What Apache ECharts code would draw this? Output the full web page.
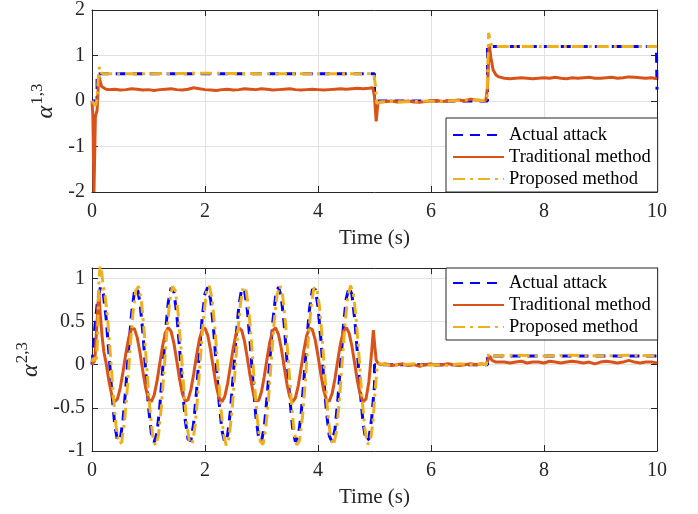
<!DOCTYPE html>
<html><head><meta charset="utf-8">
<script src="https://cdn.jsdelivr.net/npm/echarts@6/dist/echarts.min.js"></script>
<style>html,body{margin:0;padding:0;background:#fff}#c{width:698px;height:514px}</style>
</head><body><div id="c"></div>
<script>
// ---------- Top subplot: alpha^{1,3} ----------
const act13T = [0, 0.09, 0.09, 5.0, 5.0, 7.0, 7.0, 9.99, 10];
const act13V = [0, 0, 0.6, 0.6, 0, 0, 1.2, 1.2, 0.25];

const trad13T = [0,0.015,0.035,0.06,0.09,0.12,0.14,0.17,0.2,0.25,
 0.3,0.4,0.5,0.6,0.7,0.8,0.9,1.0,1.1,1.2,1.3,1.4,1.5,1.6,1.7,1.8,1.9,2.0,2.1,2.2,2.3,2.4,2.5,2.6,2.7,2.8,2.9,3.0,3.1,3.2,3.3,3.4,3.5,3.6,3.7,3.8,3.9,4.0,4.1,4.2,4.3,4.4,4.5,4.6,4.7,4.8,4.9,4.97,
 5.0,5.03,5.06,5.1,5.2,5.3,5.4,5.5,5.6,5.7,5.8,5.9,6.0,6.1,6.2,6.3,6.4,6.5,6.6,6.7,6.8,6.9,6.97,
 7.0,7.03,7.06,7.1,7.15,7.2,7.3,7.4,7.5,7.6,7.7,7.8,7.9,8.0,8.1,8.2,8.3,8.4,8.5,8.6,8.7,8.8,8.9,9.0,9.1,9.2,9.3,9.4,9.5,9.6,9.7,9.8,9.9,10.0];
const trad13V = [0,-0.3,-2,-0.35,-0.2,0.55,0.45,0.32,0.28,0.26,
 0.25,0.26,0.24,0.25,0.27,0.26,0.24,0.25,0.23,0.25,0.26,0.27,0.25,0.24,0.26,0.29,0.27,0.25,0.24,0.23,0.25,0.26,0.24,0.25,0.27,0.26,0.25,0.27,0.26,0.24,0.25,0.26,0.27,0.25,0.24,0.25,0.26,0.25,0.24,0.25,0.26,0.27,0.26,0.27,0.28,0.27,0.28,0.29,
 0.1,-0.45,-0.05,-0.02,-0.01,0.0,-0.02,-0.01,0.0,-0.02,-0.03,-0.01,0.0,0.01,-0.01,0.0,0.01,0.02,0.0,0.04,0.02,0.01,0.01,
 0.3,1.25,0.95,0.68,0.57,0.53,0.5,0.49,0.5,0.51,0.5,0.49,0.5,0.51,0.5,0.52,0.5,0.49,0.51,0.5,0.51,0.52,0.5,0.5,0.51,0.52,0.5,0.51,0.53,0.52,0.51,0.5,0.51,0.49];

const prop13T = [0,0.03,0.06,0.09,0.11,0.13,0.16,0.2,1,2,3,4,4.99,5.02,5.04,5.1,5.3,5.5,5.7,5.9,6.1,6.3,6.5,6.7,6.9,6.99,7.02,7.05,7.08,7.2,8,9,10];
const prop13V = [0,-0.05,-0.1,0.05,0.5,0.75,0.62,0.6,0.6,0.61,0.6,0.6,0.6,0.3,-0.05,-0.02,-0.01,-0.02,-0.01,0.0,-0.01,0.0,0.01,0.03,0.01,0.02,1.5,1.3,1.21,1.2,1.2,1.2,1.2];

// ---------- Bottom subplot: alpha^{2,3} ----------
const tSine = [0,0.05,0.1,0.15,0.2,0.25,0.3,0.35,0.4,0.45,0.5,0.55,0.6,0.65,0.7,0.75,0.8,0.85,0.9,0.95,1,1.05,1.1,1.15,1.2,1.25,1.3,1.35,1.4,1.45,1.5,1.55,1.6,1.65,1.7,1.75,1.8,1.85,1.9,1.95,2,2.05,2.1,2.15,2.2,2.25,2.3,2.35,2.4,2.45,2.5,2.55,2.6,2.65,2.7,2.75,2.8,2.85,2.9,2.95,3,3.05,3.1,3.15,3.2,3.25,3.3,3.35,3.4,3.45,3.5,3.55,3.6,3.65,3.7,3.75,3.8,3.85,3.9,3.95,4,4.05,4.1,4.15,4.2,4.25,4.3,4.35,4.4,4.45,4.5,4.55,4.6,4.65,4.7,4.75,4.8,4.85,4.9,4.95,5];
const act23Sine = [0,0.431,0.757,0.898,0.818,0.539,0.127,-0.316,-0.681,-0.880,
 -0.863,-0.635,-0.251,0.194,0.591,0.844,0.890,0.718,0.371,-0.068,
 -0.490,-0.792,-0.900,-0.788,-0.483,-0.060,0.378,0.724,0.892,0.841,
 0.585,0.186,-0.259,-0.641,-0.865,-0.880,-0.676,-0.308,0.135,0.544,
 0.822,0.897,0.753,0.423,-0.008,-0.438,-0.761,-0.898,-0.815,-0.532,
 -0.119,0.323,0.687,0.882,0.860,0.629,0.244,-0.202,-0.598,-0.847,
 -0.889,-0.713,-0.364,0.076,0.496,0.795,0.900,0.784,0.476,0.051,
 -0.385,-0.728,-0.893,-0.839,-0.580,-0.178,0.266,0.646,0.868,0.878,
 0.671,0.301,-0.143,-0.549,-0.825,-0.896,-0.749,-0.416,0.016,0.445,
 0.766,0.899,0.812,0.526,0.112,-0.330,-0.691,-0.884,-0.858,-0.623,
 -0.236];
const act23TailT = [5.0, 7.0, 7.0, 9.99, 10];
const act23TailV = [0, 0, 0.1, 0.1, 0.07];

const trad23HeadT = [0,0.05,0.09,0.12,0.15,0.18,0.21];
const trad23HeadV = [0,0.05,0.5,0.85,0.55,0.32,0.15];
const trad23Sine = [0.018,-0.19,-0.352,-0.427,-0.398,-0.271,-0.078,0.134,0.313,0.416,
 0.417,0.316,0.137,-0.075,-0.269,-0.398,-0.428,-0.354,-0.194,0.015,
 0.219,0.369,0.43,0.385,0.247,0.046,-0.165,-0.337,-0.424,-0.407,
 -0.292,-0.107,0.107,0.293,0.407,0.424,0.337,0.165,-0.046,-0.248,
 -0.385,-0.43,-0.369,-0.219,-0.015,0.194,0.354,0.428,0.398,0.269,
 0.075,-0.137,-0.316,-0.417,-0.416,-0.313,-0.134,0.078,0.271,0.398,
 0.427,0.352,0.19,-0.018,-0.222,-0.371,-0.43,-0.384,-0.245,-0.043,
 0.168,0.339,0.424,0.406,0.29,0.104,-0.11,-0.295,-0.408,-0.423,
 -0.335,-0.162,0.05,0.25,0.386,0.43,0.368,0.216,0.011,-0.197,
 -0.356,-0.428,-0.396];
const trad23TailT = [4.9,4.95,4.98,5.0,5.03,5.06,5.1,5.2,5.3,5.4,5.5,5.6,5.7,5.8,5.9,6.0,6.1,6.2,6.3,6.4,6.5,6.6,6.7,6.8,6.9,6.97,7.0,7.04,7.08,7.15,
 7.3,7.4,7.5,7.6,7.7,7.8,7.9,8.0,8.1,8.2,8.3,8.4,8.5,8.6,8.7,8.8,8.9,9.0,9.1,9.2,9.3,9.4,9.5,9.6,9.7,9.8,9.9,10.0];
const trad23TailV = [-0.2,0.15,0.4,0.25,0.05,0.02,0.0,0.01,-0.01,0.0,0.01,-0.01,0.0,-0.02,0.0,0.01,-0.01,0.0,0.01,0.0,-0.01,0.0,0.01,0.0,0.01,0.0,0.02,0.1,0.05,0.03,
 0.03,0.02,0.03,0.04,0.02,0.03,0.03,0.02,0.04,0.03,0.02,0.03,0.04,0.03,0.02,0.03,0.01,0.03,0.04,0.03,0.02,0.03,0.05,0.03,0.02,0.03,0.03,0.02];

const prop23HeadT = [0,0.02,0.04,0.06,0.08,0.1,0.125,0.15,0.175,0.2];
const prop23HeadV = [0.03,0.08,0.04,0.1,0.06,0.35,1.0,1.2,1.05,0.9];
const tShift = [0.225,0.275,0.325,0.375,0.425,0.475,0.525,0.575,0.625,0.675,0.725,0.775,0.825,0.875,0.925,0.975,1.025,1.075,1.125,1.175,1.225,1.275,1.325,1.375,1.425,1.475,1.525,1.575,1.625,1.675,1.725,1.775,1.825,1.875,1.925,1.975,2.025,2.075,2.125,2.175,2.225,2.275,2.325,2.375,2.425,2.475,2.525,2.575,2.625,2.675,2.725,2.775,2.825,2.875,2.925,2.975,3.025,3.075,3.125,3.175,3.225,3.275,3.325,3.375,3.425,3.475,3.525,3.575,3.625,3.675,3.725,3.775,3.825,3.875,3.925,3.975,4.025,4.075,4.125,4.175,4.225,4.275,4.325,4.375,4.425,4.475,4.525,4.575,4.625,4.675,4.725,4.775,4.825,4.875,4.925,4.975];
const prop23Sine = [0.83,0.545,0.12,-0.335,-0.71,-0.916,-0.899,-0.664,-0.269,0.19,
 0.599,0.859,0.907,0.73,0.372,-0.08,-0.515,-0.826,-0.937,-0.822,
 -0.507,-0.072,0.379,0.736,0.909,0.856,0.593,0.182,-0.277,-0.67,
 -0.901,-0.916,-0.706,-0.327,0.129,0.55,0.837,0.914,0.766,0.426,
 -0.018,-0.461,-0.794,-0.935,-0.849,-0.558,-0.133,0.323,0.698,0.898,
 0.876,0.638,0.241,-0.218,-0.626,-0.882,-0.926,-0.744,-0.385,0.068,
 0.501,0.809,0.917,0.798,0.48,0.043,-0.407,-0.76,-0.93,-0.874,
 -0.607,-0.193,0.264,0.655,0.884,0.894,0.681,0.3,-0.157,-0.575,
 -0.86,-0.933,-0.781,-0.438,0.006,0.448,0.779,0.916,0.826,0.532,
 0.105,-0.35,-0.722,-0.92,-0.894,-0.652];
const prop23TailT = [5.0,5.025,5.05,5.1,5.3,5.5,5.7,5.9,6.1,6.3,6.5,6.7,6.9,6.98,7.02,7.06,7.1,7.5,8,8.5,9,9.5,10];
const prop23TailV = [-0.4,-0.2,0.0,0.01,-0.01,0.0,0.01,-0.01,0.0,-0.01,0.01,0.0,0.01,0.0,0.13,0.11,0.1,0.11,0.1,0.11,0.1,0.11,0.1];

const seriesNames = ['Actual attack', 'Traditional method', 'Proposed method'];
const xTicks = [0, 2, 4, 6, 8, 10];

// ---------- build ----------
const zip = (t, v) => t.map((x, i) => [x, v[i]]);
const FONT = "'Liberation Serif','Times New Roman',serif";
const INK = '#262626';
const GRIDC = '#e1e1e1';
const colors = ['#0000ff', '#d95319', '#edb120'];
const lineTypes = [[10, 7], 'solid', [12, 5, 3, 5]];

function mainX(gi) {
  return {
    type: 'value', gridIndex: gi, min: xTicks[0], max: xTicks[xTicks.length - 1], interval: 2, position: 'bottom',
    axisLine: { show: true, onZero: false, lineStyle: { color: INK, width: 1 } },
    axisTick: { show: true, inside: true, length: 6, lineStyle: { color: INK } },
    axisLabel: { fontFamily: FONT, fontSize: 20, color: INK, margin: 10 },
    splitLine: { show: true, lineStyle: { color: GRIDC, width: 1 } },
    name: 'Time (s)', nameLocation: 'middle', nameGap: 36,
    nameTextStyle: { fontFamily: FONT, fontSize: 21, color: INK }
  };
}
function topX(gi) {
  return {
    type: 'value', gridIndex: gi, min: 0, max: 10, interval: 2, position: 'top',
    axisLine: { show: true, onZero: false, lineStyle: { color: INK, width: 1 } },
    axisTick: { show: true, inside: true, length: 6, lineStyle: { color: INK } },
    axisLabel: { show: false }, splitLine: { show: false }
  };
}
function mainY(gi, min, max, interval, sup) {
  return {
    type: 'value', gridIndex: gi, min: min, max: max, interval: interval, position: 'left',
    axisLine: { show: true, onZero: false, lineStyle: { color: INK, width: 1 } },
    axisTick: { show: true, inside: true, length: 6, lineStyle: { color: INK } },
    axisLabel: { fontFamily: FONT, fontSize: 20, color: INK, margin: 7, showMaxLabel: gi === 0 },
    splitLine: { show: true, lineStyle: { color: GRIDC, width: 1 } },
    name: '{a|α}{s|' + sup + '}', nameLocation: 'middle', nameRotate: 90, nameGap: 28,
    nameTextStyle: {
      fontFamily: FONT, color: INK,
      rich: {
        a: { fontFamily: FONT, fontStyle: 'italic', fontSize: 24, color: INK },
        s: { fontFamily: FONT, fontSize: 17, color: INK, padding: [0, 0, 16, 1] }
      }
    }
  };
}
function rightY(gi, min, max, interval) {
  return {
    type: 'value', gridIndex: gi, min: min, max: max, interval: interval, position: 'right',
    axisLine: { show: true, onZero: false, lineStyle: { color: INK, width: 1 } },
    axisTick: { show: true, inside: true, length: 6, lineStyle: { color: INK } },
    axisLabel: { show: false }, splitLine: { show: false }
  };
}
function mk(i, data, xi, yi) {
  return {
    type: 'line', name: seriesNames[i], xAxisIndex: xi, yAxisIndex: yi, data: data,
    showSymbol: false, symbol: 'none', animation: false, clip: true,
    lineStyle: { color: colors[i], width: 3, type: lineTypes[i] },
    itemStyle: { color: colors[i] }, z: 2 + i
  };
}
function legend(top, pad) {
  return {
    data: seriesNames, orient: 'vertical', left: 446, top: top,
    itemWidth: 51, itemHeight: 14, itemGap: 0,
    padding: pad, backgroundColor: '#fff', borderColor: INK, borderWidth: 1, borderRadius: 0,
    itemStyle: { opacity: 0, borderWidth: 0 },
    lineStyle: { opacity: 1 },
    textStyle: { fontFamily: FONT, fontSize: 18.5, color: '#000', lineHeight: 22 },
    selectedMode: false
  };
}

const chart = echarts.init(document.getElementById('c'), null, { renderer: 'canvas' });
chart.setOption({
  backgroundColor: '#fff',
  animation: false,
  grid: [
    { left: 92, right: 41, top: 8, height: 184 },
    { left: 92, right: 41, top: 268, height: 183 }
  ],
  xAxis: [mainX(0), topX(0), mainX(1), topX(1)],
  yAxis: [mainY(0, -2, 2, 1, '1,3'), rightY(0, -2, 2, 1), mainY(1, -1, 1.12, 0.5, '2,3'), rightY(1, -1, 1.12, 0.5)],
  legend: [legend(118, [6, 7, 2, 6]), legend(268, [4, 7, 2, 6])],
  series: [
    mk(0, zip(act13T, act13V), 0, 0),
    mk(1, zip(trad13T, trad13V), 0, 0),
    mk(2, zip(prop13T, prop13V), 0, 0),
    mk(0, zip(tSine, act23Sine).concat(zip(act23TailT, act23TailV)), 2, 2),
    mk(1, zip(trad23HeadT, trad23HeadV).concat(zip(tSine.slice(5, 98), trad23Sine), zip(trad23TailT, trad23TailV)), 2, 2),
    mk(2, zip(prop23HeadT, prop23HeadV).concat(zip(tShift, prop23Sine), zip(prop23TailT, prop23TailV)), 2, 2)
  ]
});
</script></body></html>
